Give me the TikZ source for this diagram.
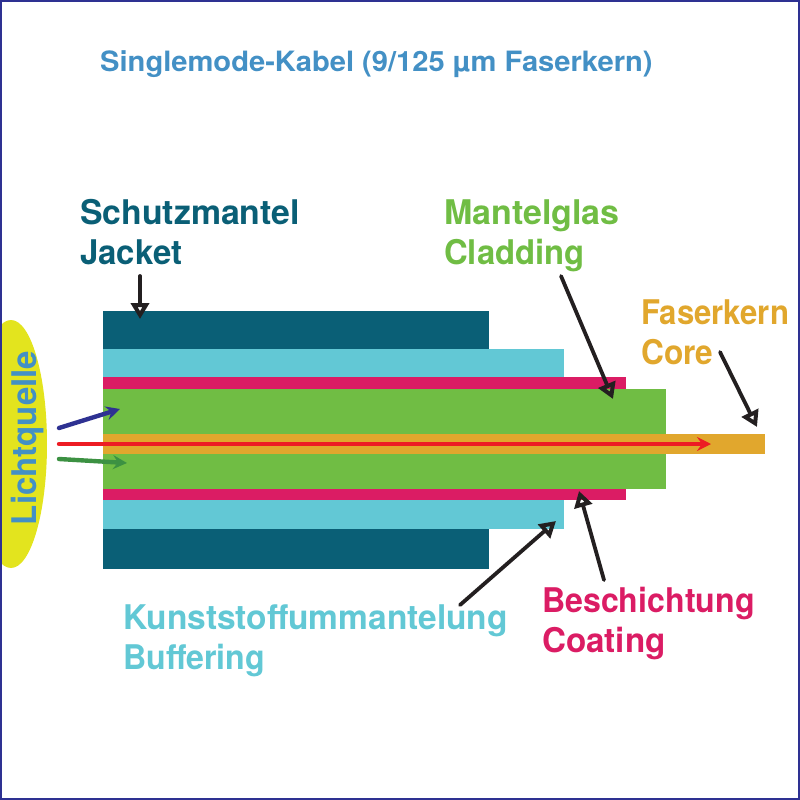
\documentclass[tikz,border=0pt]{standalone}
\usepackage{graphicx}
\usepackage{fontspec}
\setmainfont{TeX Gyre Heros}
\usetikzlibrary{arrows.meta}
\definecolor{jacketc}{HTML}{0A5F76}
\definecolor{bufferc}{HTML}{62C8D5}
\definecolor{coatc}{HTML}{DB1C64}
\definecolor{cladc}{HTML}{70BD44}
\definecolor{corec}{HTML}{E1A72D}
\definecolor{titlec}{HTML}{4390C5}
\definecolor{lampc}{HTML}{E3E41E}
\definecolor{framec}{HTML}{2E3192}
\definecolor{inkc}{HTML}{231F20}
\definecolor{rayred}{HTML}{ED1C24}
\definecolor{raygreen}{HTML}{3C9142}
\newcommand{\wdscale}[2]{\scalebox{#1}[1]{#2}}
\tikzset{
  layer/.style={fill=#1,draw=none},
  lbl/.style={anchor=base west,inner sep=0pt,font=\fontsize{34}{34}\selectfont\bfseries,text=#1},
  pointer/.style={draw=inkc,line width=3.8pt,line cap=round,-{Triangle[open,length=16pt,width=18pt,line width=4pt]}},
  ray/.style={draw=#1,line width=4.4pt,line cap=round,-{Stealth[length=14pt,width=14pt,inset=5pt]}}
}
\begin{document}
\begin{tikzpicture}[x=1pt,y=-1pt]
\useasboundingbox (0,0) rectangle (800,800);
\begin{scope}
\clip (0,0) rectangle (800,800);
\fill[lampc] (11,444) ellipse [x radius=36,y radius=124];
\end{scope}
\node[lbl=titlec,font=\fontsize{28}{28}\selectfont\bfseries] (title) at (100,71) {\wdscale{1.04}{Singlemode-Kabel (9/125 µm Faserkern)}};
\fill[layer=jacketc] (103,311) rectangle (489,569);
\fill[layer=bufferc] (103,349) rectangle (564,529);
\fill[layer=coatc] (103,377) rectangle (626,500);
\fill[layer=cladc] (103,389) rectangle (666,489);
\fill[layer=corec] (103,434) rectangle (765,454);
\node[lbl=jacketc] (jacket1) at (80,224) {\wdscale{.995}{Schutzmantel}};
\node[lbl=jacketc] (jacket2) at (80,264) {\wdscale{.97}{Jacket}};
\node[lbl=cladc] (clad1) at (444,224) {\wdscale{1.0}{Mantelglas}};
\node[lbl=cladc] (clad2) at (444,264) {\wdscale{.965}{Cladding}};
\node[lbl=corec] (core1) at (641,324) {\wdscale{.915}{Faserkern}};
\node[lbl=corec] (core2) at (641,364) {\wdscale{.93}{Core}};
\node[lbl=coatc] (coat1) at (542,612) {\wdscale{.945}{Beschichtung}};
\node[lbl=coatc] (coat2) at (542,652) {\wdscale{.975}{Coating}};
\node[lbl=bufferc] (buf1) at (123,629) {\wdscale{.985}{Kunststoffummantelung}};
\node[lbl=bufferc] (buf2) at (123,669) {\wdscale{.945}{Buffering}};
\node[lbl=titlec,anchor=base,rotate=90] (lamp) at (36,438) {\wdscale{.97}{Lichtquelle}};
\coordinate (jacketS) at (140,276);
\coordinate (jacketE) at (140,319);
\coordinate (cladS) at (561,276);
\coordinate (cladE) at (613,399);
\coordinate (coreS) at (720,352);
\coordinate (coreE) at (757,427);
\coordinate (coatS) at (604,580);
\coordinate (coatE) at (579,491);
\coordinate (bufS) at (460,605);
\coordinate (bufE) at (556,521);
\coordinate (blueS) at (59,428);
\coordinate (blueE) at (120,409);
\coordinate (greenS) at (59,459);
\coordinate (greenE) at (127,463);
\coordinate (redS) at (59,444);
\coordinate (redE) at (711,444);
\draw[pointer] (jacketS) -- (jacketE);
\draw[pointer] (cladS) -- (cladE);
\draw[pointer] (coreS) -- (coreE);
\draw[pointer] (coatS) -- (coatE);
\draw[pointer] (bufS) -- (bufE);
\draw[ray=framec] (blueS) -- (blueE);
\draw[ray=raygreen] (greenS) -- (greenE);
\draw[ray=rayred] (redS) -- (redE);
\draw[framec,line width=2pt] (1,1) rectangle (799,799);
\end{tikzpicture}
\end{document}
